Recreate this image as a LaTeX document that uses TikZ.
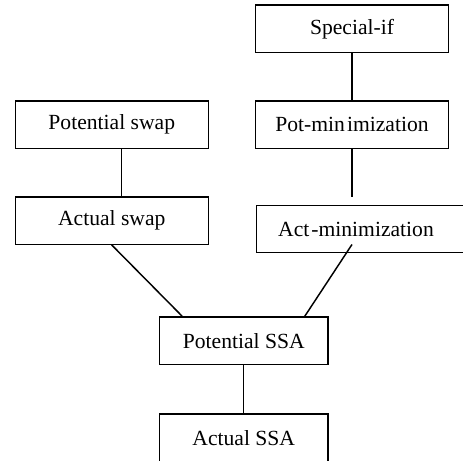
\documentclass[tikz,border=0pt]{standalone}
\usepackage{fontspec}
\setmainfont{Liberation Serif}
\usetikzlibrary{positioning}

\begin{document}
\begin{tikzpicture}[x=0.75pt,y=0.75pt,yscale=-1,xscale=1,
  box/.style={draw, line width=1.1pt, minimum width=144.75pt, minimum height=35.6pt, inner sep=0pt, font=\fontsize{16.2}{19}\selectfont},
  link/.style={line width=1.1pt}]
%set diagram left start at 0, and has height of 460
\clip (0,0) rectangle (463,460);

%Shape: Box [id:special]
\node [box] (special) at (352,28.75) {Special-if};
%Shape: Box [id:potmin]
\node [box] (potmin) at (352,124.5) {Pot-min\kern1.5pt imization};
%Shape: Box [id:actmin]
\node [box, anchor=west, minimum width=172.5pt, text width=139.5pt, align=left, inner xsep=16.5pt] (actmin) at (255.5,229) {Act\kern1.5pt-minimization};
%Shape: Box [id:potswap]
\node [box] (potswap) at (111.75,124.5) {Potential swap};
%Shape: Box [id:actswap]
\node [box] (actswap) at (111.75,220.5) {Actual swap};
%Shape: Box [id:potssa]
\node [box, minimum width=126.4pt] (potssa) at (243.75,340.75) {Potential SSA};
%Shape: Box [id:actssa]
\node [box, minimum width=126.4pt, minimum height=37pt] (actssa) at (243.75,438.5) {Actual SSA};

% Straight Lines
\draw [link] (special) -- (potmin);
\draw [link, shorten >=6pt] (potmin) -- (potmin.south |- actmin.north);
\draw [link] ([xshift=7.5pt]potswap.south) -- ([xshift=7.5pt]actswap.north);
\draw [link] (actswap.south) -- ([xshift=17.6pt]potssa.north west);
\draw [link] (potmin.south |- actmin.south) ++(0,-9) -- ([xshift=-18pt]potssa.north east);
\draw [link] (potssa) -- (actssa);

\end{tikzpicture}
\end{document}
